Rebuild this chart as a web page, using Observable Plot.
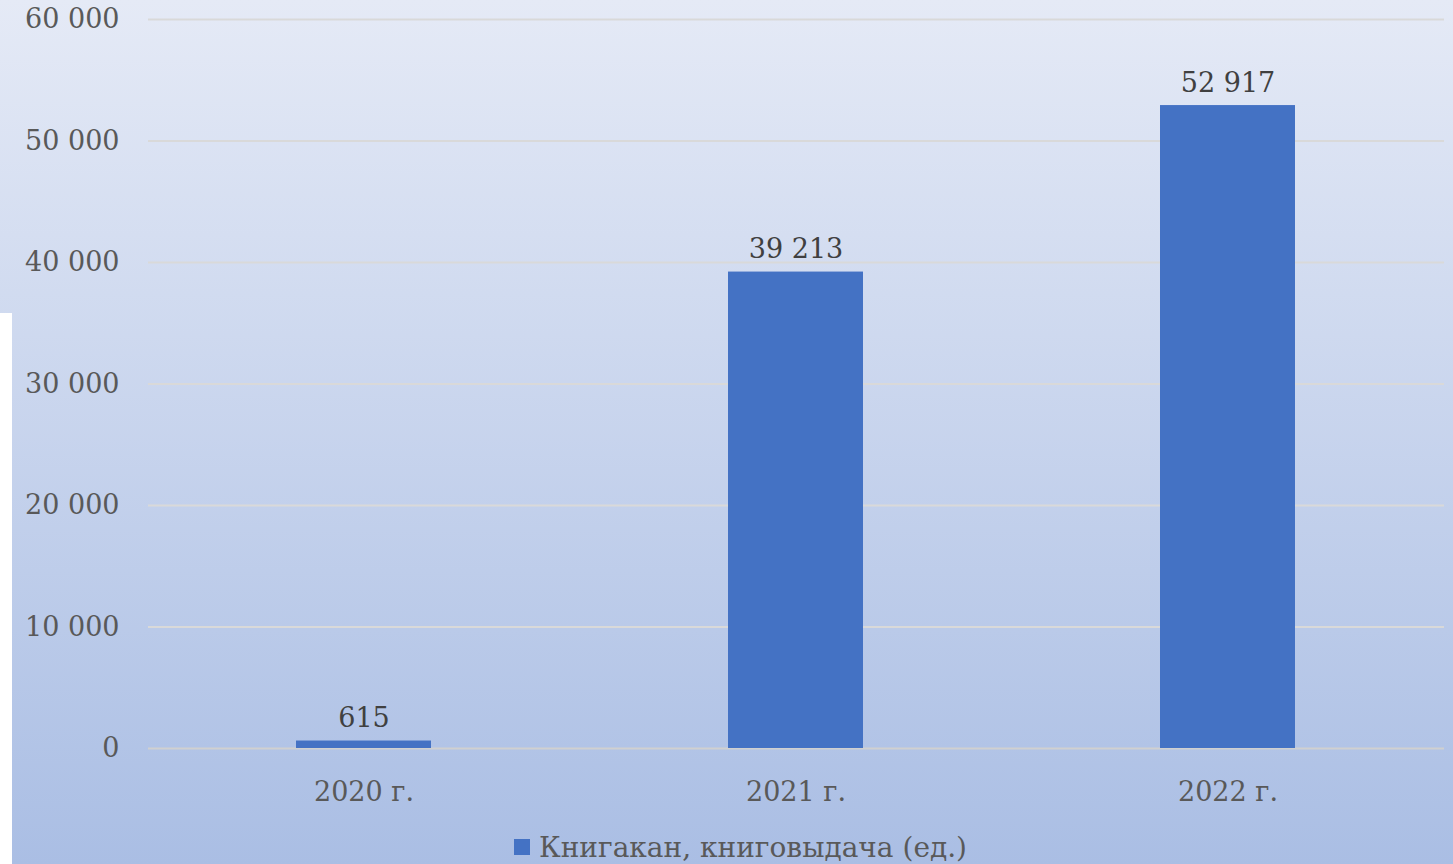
<!DOCTYPE html>
<html>
<head>
<meta charset="utf-8">
<script src="https://cdn.jsdelivr.net/npm/d3@7"></script>
<script src="https://cdn.jsdelivr.net/npm/@observablehq/plot@0.6"></script>
<style>
  html, body { margin: 0; padding: 0; }
  #wrap {
    position: relative; width: 1453px; height: 864px; overflow: hidden;
    background: linear-gradient(to bottom, #e5eaf6 0%, #aabee4 100%);
    font-family: "DejaVu Serif", Georgia, serif;
  }
  #chart { position: absolute; left: 0; top: 0; }
  #strip { position: absolute; left: 0; top: 313px; width: 12px; height: 551px; background: #ffffff; }
  #legend {
    position: absolute; left: 514px; top: 831px; height: 32px;
    display: flex; align-items: center; gap: 9px;
    font-size: 28px; color: #595959; white-space: nowrap;
  }
  #legend .sw { width: 16px; height: 16px; background: #4472c4; }
</style>
</head>
<body>
<div id="wrap">
  <div id="chart"></div>
  <div id="strip"></div>
  <div id="legend"><span class="sw"></span><span id="legend-text"></span></div>
</div>
<script>
const categories = ["2020 г.", "2021 г.", "2022 г."];
const seriesName = "Книгакан, книговыдача (ед.)";
const seriesValues = [615, 39213, 52917];
const yTicks = [0, 10000, 20000, 30000, 40000, 50000, 60000];

const locale = d3.formatLocale({decimal: ",", thousands: " ", grouping: [3], currency: ["", ""]});
const fmt = locale.format(",d");

const data = categories.map((c, i) => ({year: c, value: seriesValues[i]}));

const chart = Plot.plot({
  width: 1453,
  height: 810,
  marginLeft: 148,
  marginRight: 9,
  marginTop: 19,
  marginBottom: 62,
  style: {background: "transparent", fontFamily: "'DejaVu Serif', Georgia, serif", fontSize: "27px", color: "#595959", overflow: "visible"},
  x: {domain: categories, paddingInner: 0.687, paddingOuter: 0.3435, label: null},
  y: {domain: [0, 60000], label: null},
  marks: [
    Plot.gridY(yTicks.slice(1), {stroke: "#d9d9d9", strokeWidth: 2, strokeOpacity: 1}),
    Plot.ruleY([0], {stroke: "#d0d0d0", strokeWidth: 2}),
    Plot.barY(data, {x: "year", y: "value", fill: "#4472c4"}),
    Plot.text(data, {x: "year", y: "value", text: d => fmt(d.value), lineAnchor: "bottom", dy: -14, fill: "#404040", fontSize: 27}),
    Plot.axisY({ticks: yTicks, tickFormat: fmt, tickSize: 0, tickPadding: 29, label: null, fill: "#595959", fontSize: 27}),
    Plot.axisX({tickSize: 0, tickPadding: 33, label: null, fill: "#595959", fontSize: 27})
  ]
});
document.getElementById("chart").appendChild(chart);
document.getElementById("legend-text").textContent = seriesName;
</script>
</body>
</html>
